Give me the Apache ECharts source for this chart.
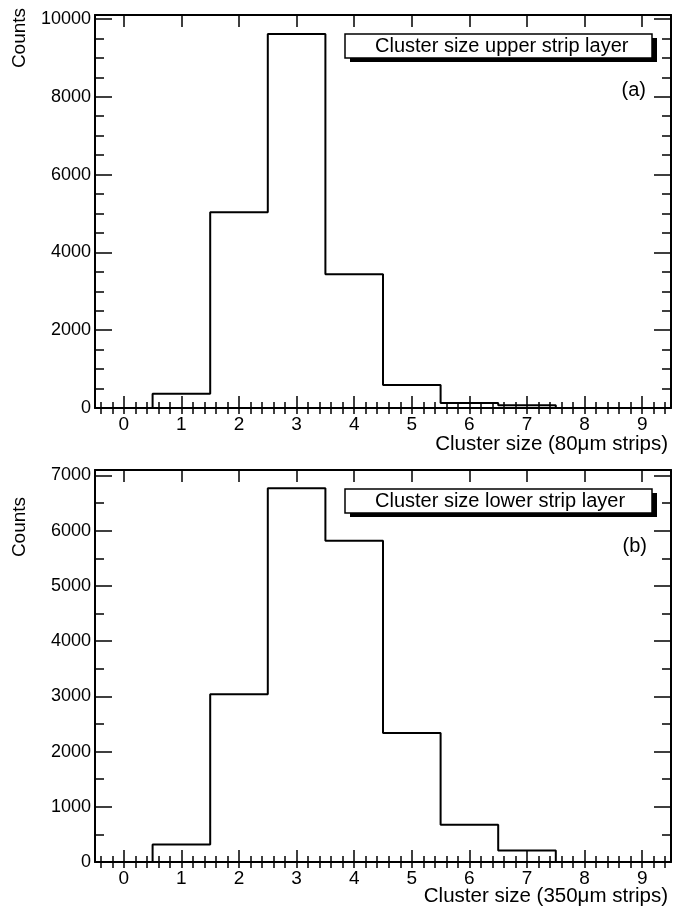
<!DOCTYPE html>
<html>
<head>
<meta charset="utf-8">
<script src="https://cdn.jsdelivr.net/npm/echarts@6/dist/echarts.min.js"></script>
<style>
  html, body { margin: 0; padding: 0; background: #fff; }
  #chart { width: 673px; height: 910px; }
</style>
</head>
<body>
<div id="chart"></div>
<script>
// bin centres (cluster size) and counts
const binCenters = [0, 1, 2, 3, 4, 5, 6, 7, 8, 9];
const upperCounts = [0, 367, 5030, 9610, 3440, 590, 130, 70, 0, 0];
const lowerCounts = [0, 318, 3040, 6770, 5820, 2338, 675, 209, 0, 0];

const xTickLabels = [0, 1, 2, 3, 4, 5, 6, 7, 8, 9];

const FONT = "'Liberation Sans', Arial, Helvetica, sans-serif";
const BLACK = '#000';

// minor tick positions every 0.2 on x
const xMinor = [];
for (let i = -2; i <= 47; i++) xMinor.push(Math.round((i * 0.2) * 10) / 10);

// histogram outline: points at bin low edges, step drawn horizontally first
function histPoints(centers, counts) {
    const pts = centers.map((c, i) => [c - 0.5, counts[i]]);
    const last = centers.length - 1;
    pts.push([centers[last] + 0.5, counts[last]]);
    return pts;
}

const grids = [
    { left: 95, top: 15, width: 576, height: 393 },
    { left: 95, top: 470, width: 576, height: 392 }
];

function xAxes(gridIndex) {
    const base = {
        type: 'value', gridIndex: gridIndex, min: -0.5, max: 9.5,
        splitLine: { show: false }
    };
    const tick = (len, vals) => ({
        show: true, inside: true, length: len, customValues: vals,
        lineStyle: { color: BLACK, width: 1.5 }
    });
    return [
        {
            ...base, position: 'bottom',
            axisLine: { show: true, onZero: false, lineStyle: { color: BLACK, width: 2 } },
            axisTick: tick(12, xTickLabels),
            axisLabel: {
                customValues: xTickLabels, color: BLACK, fontSize: 19,
                fontFamily: FONT, margin: 7
            }
        },
        {
            ...base, position: 'bottom',
            axisLine: { show: false },
            axisTick: tick(6, xMinor),
            axisLabel: { show: false }
        },
        {
            ...base, position: 'top',
            axisLine: { show: true, onZero: false, lineStyle: { color: BLACK, width: 2 } },
            axisTick: tick(12, xTickLabels),
            axisLabel: { show: false }
        },
        {
            ...base, position: 'top',
            axisLine: { show: false },
            axisTick: tick(6, xMinor),
            axisLabel: { show: false }
        }
    ];
}

function yAxes(gridIndex, max, interval, minorSplit) {
    const base = {
        type: 'value', gridIndex: gridIndex, min: 0, max: max, interval: interval,
        splitLine: { show: false },
        axisLine: { show: true, onZero: false, lineStyle: { color: BLACK, width: 2 } },
        axisTick: { show: true, inside: true, length: 17, lineStyle: { color: BLACK, width: 1.5 } },
        minorTick: { show: true, splitNumber: minorSplit, length: 9, lineStyle: { color: BLACK, width: 1.5 } }
    };
    return [
        {
            ...base, position: 'left',
            axisLabel: {
                color: BLACK, fontSize: 18, fontFamily: FONT, margin: 4,
                showMaxLabel: false,
                formatter: v => String(v)
            }
        },
        { ...base, position: 'right', axisLabel: { show: false } }
    ];
}

// legend-like box with a drop shadow, as drawn by ROOT
function labelBox(y, text) {
    return [
        { type: 'rect', shape: { x: 350, y: y + 4, width: 307, height: 24 }, style: { fill: BLACK }, z: 10 },
        { type: 'rect', shape: { x: 345, y: y, width: 307, height: 24 }, style: { fill: '#fff', stroke: BLACK, lineWidth: 1.5 }, z: 11 },
        { type: 'text', x: 375, y: y + 12, style: { text: text, font: '20px ' + FONT, fill: BLACK, textVerticalAlign: 'middle' }, z: 12 }
    ];
}

function textAt(x, y, text, align, rotate, size) {
    return {
        type: 'text', x: x, y: y, rotation: rotate ? Math.PI / 2 : 0,
        style: { text: text, font: (size || 20) + 'px ' + FONT, fill: BLACK, textAlign: align, textVerticalAlign: 'middle' },
        z: 12
    };
}

const option = {
    backgroundColor: '#fff',
    animation: false,
    grid: grids,
    xAxis: [...xAxes(0), ...xAxes(1)],
    yAxis: [...yAxes(0, 10100, 2000, 4), ...yAxes(1, 7100, 1000, 2)],
    series: [
        {
            name: 'Cluster size upper strip layer', type: 'line', step: 'end',
            xAxisIndex: 0, yAxisIndex: 0, symbol: 'none',
            lineStyle: { color: BLACK, width: 2 },
            data: histPoints(binCenters, upperCounts)
        },
        {
            name: 'Cluster size lower strip layer', type: 'line', step: 'end',
            xAxisIndex: 4, yAxisIndex: 2, symbol: 'none',
            lineStyle: { color: BLACK, width: 2 },
            data: histPoints(binCenters, lowerCounts)
        }
    ],
    graphic: [
        ...labelBox(34, 'Cluster size upper strip layer'),
        ...labelBox(489, 'Cluster size lower strip layer'),
        textAt(646, 90, '(a)', 'right'),
        textAt(647, 546, '(b)', 'right'),
        textAt(668, 444, 'Cluster size (80\u03bcm strips)', 'right', false, 20.5),
        textAt(668, 896, 'Cluster size (350\u03bcm strips)', 'right', false, 20.5),
        textAt(20, 38, 'Counts', 'center', true, 19),
        textAt(20, 527, 'Counts', 'center', true, 19)
    ]
};

const chart = echarts.init(document.getElementById('chart'));
chart.setOption(option);
</script>
</body>
</html>
